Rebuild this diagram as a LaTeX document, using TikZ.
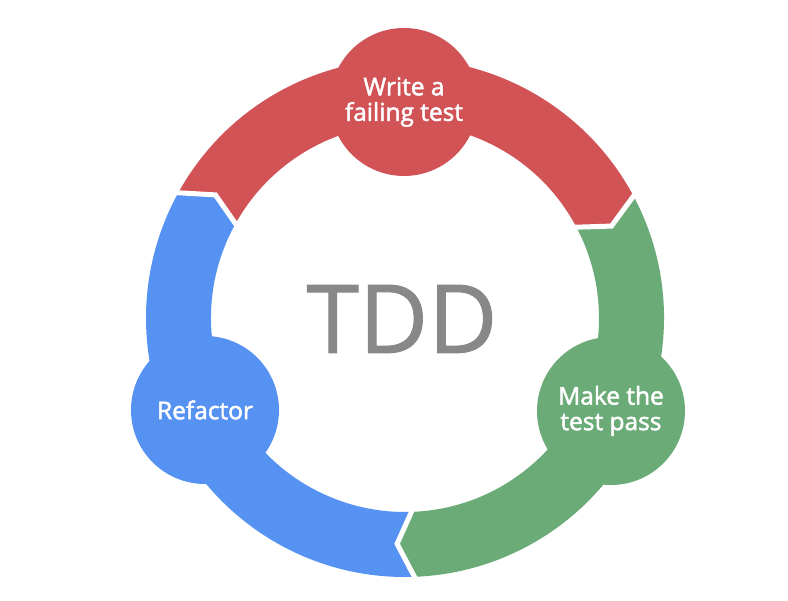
\documentclass[tikz,border=0pt]{standalone}
\usepackage{fontspec}
\setmainfont{Open Sans}
\newfontfamily\labelfont{Open Sans}[FakeBold=2]
\newfontfamily\titlefont{Open Sans}[FakeBold=1]
\usetikzlibrary{positioning}
\definecolor{tddRed}{RGB}{209,83,85}
\definecolor{tddGreen}{RGB}{106,171,120}
\definecolor{tddBlue}{RGB}{86,146,242}
\definecolor{tddGray}{RGB}{136,136,136}
\tikzset{
  stage/.style={circle, minimum size=148pt, inner sep=0pt, align=center,
    text=white, font=\labelfont\fontsize{24.5}{25.5}\selectfont},
  gapln/.style={white, line width=5pt, line join=miter},
  bigtitle/.style={text=tddGray, font=\titlefont\fontsize{95}{95}\selectfont, inner sep=0pt},
}
\newcommand{\Rout}{259}
\newcommand{\Rin}{194}
\newcommand{\Rmid}{226}
\newcommand{\tipang}{4.5}
% one arc of the ring: notch at the start, pointed end
\newcommand{\ringseg}[3]{%
  \fill[#1] (#2:\Rout) arc[start angle=#2, end angle=#3, radius=\Rout]
    -- ({#3-\tipang}:\Rmid) -- (#3:\Rin)
    arc[start angle=#3, end angle=#2, radius=\Rin]
    -- ({#2-\tipang}:\Rmid) -- cycle;
}
\begin{document}
\begin{tikzpicture}[x=1pt, y=1pt]
    \fill[white] (-405,-283) rectangle (383,318);
    \useasboundingbox (-405,-283) rectangle (383,318);
    % the three arcs of the cycle
    \ringseg{tddRed}{151.5}{28.5}
    \ringseg{tddGreen}{28.5}{-87.5}
    \ringseg{tddBlue}{272.5}{151.5}
    % white cuts between the arcs
    \foreach \b in {28.5,-87.5,151.5}
      \draw[gapln] (\b:{\Rout+4}) -- ({\b-\tipang}:\Rmid) -- (\b:{\Rin-4});
    % stages
    \node[stage, fill=tddRed] (write) at (-1,216) {Write a\\failing test};
    \node[stage, fill=tddGreen] (pass) at (206,-93) {Make the\\test pass};
    \node[stage, fill=tddBlue] (refactor) at (-200,-92) {Refactor};
    % centre title
    \node[bigtitle] (tdd) at (-3,-1) {TDD};
  \end{tikzpicture}
\end{document}
